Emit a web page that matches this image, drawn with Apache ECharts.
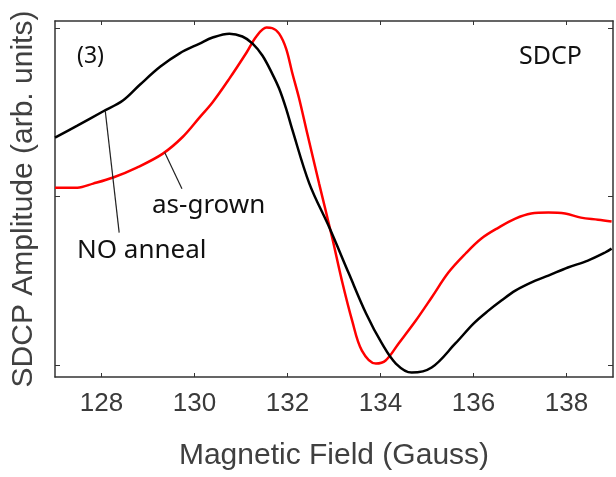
<!DOCTYPE html>
<html>
<head>
<meta charset="utf-8">
<script src="https://cdn.jsdelivr.net/npm/echarts@6/dist/echarts.min.js"></script>
<style>
  html, body { margin: 0; padding: 0; background: #fff; }
  #main { width: 616px; height: 477px; }
</style>
</head>
<body>
<div id="main"></div>
<script>
  // NO anneal (black)
  var fieldAnneal = [127.0, 127.48, 128.03, 128.46, 128.83, 129.26, 129.68, 130.11, 130.39, 130.75,
    131.03, 131.25, 131.46, 131.67, 131.82, 131.97, 132.10, 132.47, 132.90, 133.32,
    133.69, 134.03, 134.33, 134.67, 135.10, 135.61, 136.0, 136.32, 136.60, 136.90,
    137.33, 137.61, 138.03, 138.46, 138.83, 138.97];
  var ampAnneal = [0.350, 0.421, 0.505, 0.570, 0.665, 0.770, 0.850, 0.908, 0.944, 0.967,
    0.950, 0.908, 0.837, 0.730, 0.641, 0.522, 0.400, 0.077, -0.184, -0.457,
    -0.694, -0.872, -0.991, -1.045, -1.015, -0.872, -0.754, -0.677, -0.617, -0.558,
    -0.499, -0.469, -0.421, -0.380, -0.332, -0.309];

  // as-grown (red)
  var fieldGrown = [127.0, 127.48, 127.82, 128.25, 128.76, 129.32, 129.75, 130.11, 130.39, 130.75,
    131.12, 131.33, 131.55, 131.67, 131.82, 131.97, 132.10, 132.25, 132.42, 132.68,
    132.96, 133.17, 133.39, 133.60, 133.90, 134.11, 134.39, 134.76, 135.10, 135.46,
    135.83, 136.17, 136.54, 136.90, 137.24, 137.61, 137.97, 138.31, 138.68, 138.97];
  var ampGrown = [0.053, 0.053, 0.077, 0.113, 0.172, 0.255, 0.355, 0.470, 0.560, 0.700,
    0.855, 0.950, 1.003, 1.000, 0.967, 0.878, 0.736, 0.582, 0.380, 0.077,
    -0.243, -0.499, -0.736, -0.914, -0.991, -0.973, -0.872, -0.736, -0.599, -0.451,
    -0.338, -0.249, -0.184, -0.131, -0.101, -0.095, -0.101, -0.125, -0.137, -0.148];

  var xTicks = [128, 130, 132, 134, 136, 138];
  var yTicks = [-1, 0, 1];

  // pointer lines from labels to curves [x, y]
  var annealPointer = [[128.08, 0.510], [128.38, -0.214]];
  var grownPointer = [[129.36, 0.261], [129.73, 0.047]];

  function zip(xs, ys) {
    var out = [];
    for (var i = 0; i < xs.length; i++) out.push([xs[i], ys[i]]);
    return out;
  }

  var myChart = echarts.init(document.getElementById('main'));

  var axisLineStyle = { color: '#333', width: 1.5 };
  var labelFont = 'Liberation Sans';
  var noteFont = 'Noto Sans';

  var option = {
    animation: false,
    grid: { left: 55, right: 3, top: 21, bottom: 100 },
    xAxis: [{
      type: 'value',
      min: 127, max: 139,
      position: 'bottom',
      name: 'Magnetic Field (Gauss)',
      nameLocation: 'middle',
      nameGap: 64,
      nameTextStyle: { fontFamily: labelFont, fontSize: 30, color: '#404040' },
      axisLine: { show: true, onZero: false, lineStyle: axisLineStyle },
      axisTick: { show: true, inside: true, length: 4, customValues: xTicks, lineStyle: { color: '#333' } },
      axisLabel: { customValues: xTicks, fontFamily: labelFont, fontSize: 26, color: '#3a3a3a', margin: 14 },
      splitLine: { show: false }
    }, {
      type: 'value',
      min: 127, max: 139,
      position: 'top',
      axisLine: { show: true, onZero: false, lineStyle: axisLineStyle },
      axisTick: { show: true, inside: true, length: 4, customValues: xTicks, lineStyle: { color: '#333' } },
      axisLabel: { show: false },
      splitLine: { show: false }
    }],
    yAxis: [{
      type: 'value',
      min: -1.071, max: 1.042,
      position: 'left',
      name: 'SDCP Amplitude (arb. units)',
      nameLocation: 'middle',
      nameGap: 16,
      nameTextStyle: { fontFamily: labelFont, fontSize: 30, color: '#404040' },
      axisLine: { show: true, onZero: false, lineStyle: axisLineStyle },
      axisTick: { show: true, inside: true, length: 5, customValues: yTicks, lineStyle: { color: '#333' } },
      axisLabel: { show: false },
      splitLine: { show: false }
    }, {
      type: 'value',
      min: -1.071, max: 1.042,
      position: 'right',
      axisLine: { show: true, onZero: false, lineStyle: axisLineStyle },
      axisTick: { show: true, inside: true, length: 5, customValues: yTicks, lineStyle: { color: '#333' } },
      axisLabel: { show: false },
      splitLine: { show: false }
    }],
    series: [{
      name: 'as-grown',
      type: 'line',
      smooth: 0.35,
      showSymbol: false,
      lineStyle: { color: '#ff0000', width: 2.5 },
      data: zip(fieldGrown, ampGrown),
      markLine: {
        silent: true,
        symbol: 'none',
        lineStyle: { color: '#222', width: 1.2, type: 'solid' },
        label: { show: false },
        data: [[{ coord: grownPointer[0] }, { coord: grownPointer[1] }]]
      }
    }, {
      name: 'NO anneal',
      type: 'line',
      smooth: 0.35,
      showSymbol: false,
      lineStyle: { color: '#000', width: 2.5 },
      data: zip(fieldAnneal, ampAnneal),
      markLine: {
        silent: true,
        symbol: 'none',
        lineStyle: { color: '#222', width: 1.2, type: 'solid' },
        label: { show: false },
        data: [[{ coord: annealPointer[0] }, { coord: annealPointer[1] }]]
      }
    }],
    graphic: [
      { type: 'text', left: 77, top: 45, style: { text: '(3)', font: '23px "' + noteFont + '"', fill: '#111' } },
      { type: 'text', left: 519, top: 44, style: { text: 'SDCP', font: '25px "' + noteFont + '"', fill: '#111' } },
      { type: 'text', left: 152, top: 193, style: { text: 'as-grown', font: '26px "' + noteFont + '"', fill: '#111' } },
      { type: 'text', left: 77, top: 238, style: { text: 'NO anneal', font: '26px "' + noteFont + '"', fill: '#111' } }
    ]
  };

  myChart.setOption(option);
</script>
</body>
</html>
